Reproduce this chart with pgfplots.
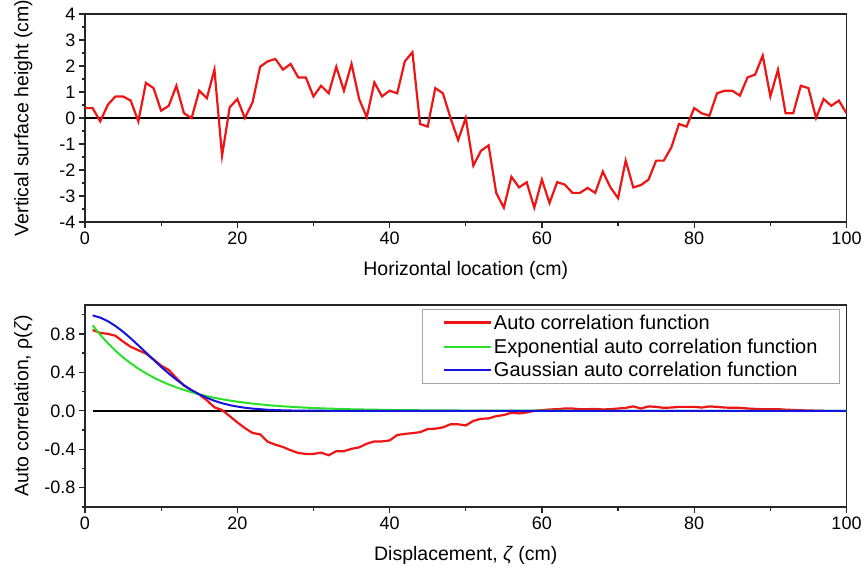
\documentclass[border=0pt]{standalone}
\usepackage{fontspec}
\setmainfont{Liberation Sans}
\usepackage{pgfplots}
\pgfplotsset{compat=1.18}
\definecolor{cred}{RGB}{240,20,20}
\definecolor{cgreen}{RGB}{40,225,40}
\definecolor{cblue}{RGB}{20,20,225}
\pgfplotsset{
 myaxis/.style={
  scale only axis, width=761.5bp, anchor=south west,
  xmin=0, xmax=100, xtick={0,20,...,100}, minor x tick num=1,
  tick align=outside, tick pos=left,
  major tick length=6bp, minor tick length=3.5bp,
  axis line style={line width=1.3bp, black!85},
  every tick/.style={line width=1.3bp, black!85},
  tick label style={font=\fontsize{18bp}{20bp}\selectfont},
  label style={font=\fontsize{19.5bp}{22bp}\selectfont},
  /pgf/number format/assume math mode=true,
  xticklabel={\pgfmathprintnumber[assume math mode=true]{\tick}},
  xlabel style={at={(axis description cs:0.5,0)}, anchor=center, yshift=-48bp},
  ylabel style={at={(axis description cs:-0.081,0.5)}, anchor=center},
 }
}
\begin{document}
\begin{tikzpicture}
\path[use as bounding box] (0bp,0bp) rectangle (866bp,-574bp);
\begin{axis}[myaxis, at={(85bp,-222bp)}, height=208bp,
  ymin=-4, ymax=4, ytick={-4,-3,...,4}, minor y tick num=1,
  yticklabel={\pgfmathprintnumber[assume math mode=true]{\tick}},
  xlabel={Horizontal location (cm)},
  ylabel={Vertical surface height (cm)}]
\addplot[black, line width=2.5bp, forget plot] coordinates {(0,0) (100,0)};
\addplot[cred, line width=2.2bp] table {
x y
0 0.38
1 0.38
2 -0.13
3 0.51
4 0.83
5 0.83
6 0.67
7 -0.13
8 1.35
9 1.15
10 0.28
11 0.47
12 1.24
13 0.18
14 0.0
15 1.05
16 0.76
17 1.86
18 -1.45
19 0.41
20 0.73
21 0.0
22 0.6
23 1.97
24 2.18
25 2.27
26 1.86
27 2.08
28 1.56
29 1.56
30 0.83
31 1.24
32 0.95
33 1.97
34 1.05
35 2.08
36 0.73
37 0.03
38 1.37
39 0.83
40 1.05
41 0.95
42 2.18
43 2.53
44 -0.23
45 -0.33
46 1.15
47 0.95
48 0.0
49 -0.85
50 0.0
51 -1.83
52 -1.26
53 -1.05
54 -2.88
55 -3.45
56 -2.26
57 -2.67
58 -2.47
59 -3.45
60 -2.37
61 -3.27
62 -2.47
63 -2.56
64 -2.88
65 -2.88
66 -2.69
67 -2.88
68 -2.06
69 -2.67
70 -3.08
71 -1.64
72 -2.67
73 -2.58
74 -2.37
75 -1.64
76 -1.64
77 -1.13
78 -0.23
79 -0.33
80 0.38
81 0.18
82 0.09
83 0.95
84 1.05
85 1.05
86 0.86
87 1.56
88 1.67
89 2.40
90 0.83
91 1.86
92 0.18
93 0.18
94 1.24
95 1.15
96 0.0
97 0.73
98 0.47
99 0.67
100 0.18
};
\end{axis}
\begin{axis}[myaxis, at={(85bp,-507bp)}, height=202bp,
  ymin=-1.0, ymax=1.1, ytick={-0.8,-0.4,0,0.4,0.8},
  minor ytick={-1,-0.6,-0.2,0.2,0.6,1.0},
  yticklabel={\pgfmathprintnumber[assume math mode=true,fixed,fixed zerofill,precision=1]{\tick}},
  xlabel={Displacement, \textit{ζ} (cm)},
  ylabel={Auto correlation, ρ(\textit{ζ})},
  legend cell align=left,
  legend style={at={(axis description cs:0.9915,0.98)}, anchor=north east,
    draw=black!35, line width=1bp, font=\fontsize{20bp}{22bp}\selectfont,
    inner xsep=20bp, inner ysep=3bp, row sep=4bp,
    /tikz/every even column/.style={column sep=5bp}},
  legend image code/.code={\draw[#1] (0bp,0bp) -- (47bp,0bp);}]
\addplot[black, line width=2.5bp, forget plot] coordinates {(1,0) (100,0)};
\addplot[cred, line width=2.2bp] table {
x y
1 0.84
2 0.81
3 0.80
4 0.78
5 0.72
6 0.665
7 0.63
8 0.595
9 0.535
10 0.47
11 0.425
12 0.34
13 0.262
14 0.212
15 0.17
16 0.11
17 0.036
18 0.008
19 -0.055
20 -0.12
21 -0.18
22 -0.23
23 -0.245
24 -0.322
25 -0.352
26 -0.376
27 -0.41
28 -0.438
29 -0.448
30 -0.448
31 -0.435
32 -0.462
33 -0.42
34 -0.42
35 -0.395
36 -0.38
37 -0.342
38 -0.318
39 -0.318
40 -0.308
41 -0.252
42 -0.24
43 -0.232
44 -0.222
45 -0.19
46 -0.186
47 -0.172
48 -0.14
49 -0.14
50 -0.152
51 -0.105
52 -0.083
53 -0.079
54 -0.055
55 -0.044
56 -0.02
57 -0.027
58 -0.017
59 0.0
60 0.007
61 0.014
62 0.017
63 0.024
64 0.024
65 0.017
66 0.017
67 0.02
68 0.014
69 0.017
70 0.024
71 0.03
72 0.046
73 0.024
74 0.046
75 0.041
76 0.031
77 0.034
78 0.041
79 0.041
80 0.041
81 0.034
82 0.046
83 0.041
84 0.034
85 0.031
86 0.031
87 0.024
88 0.02
89 0.017
90 0.017
91 0.017
92 0.012
93 0.009
94 0.006
95 0.003
96 0.002
97 0.0
};
\addlegendentry{Auto correlation function}
\addplot[cgreen, line width=2bp] table {
x y
1 0.889
2 0.790
3 0.703
4 0.625
5 0.555
6 0.494
7 0.439
8 0.390
9 0.347
10 0.308
11 0.274
12 0.244
13 0.217
14 0.193
15 0.171
16 0.152
17 0.135
18 0.120
19 0.107
20 0.095
22 0.075
24 0.059
26 0.047
28 0.037
30 0.029
32 0.023
35 0.016
40 0.009
45 0.005
50 0.003
60 0.001
70 0.0
100 0.0
};
\addlegendentry{Exponential auto correlation function}
\addplot[cblue, line width=2bp] table {
x y
1 0.992
2 0.969
3 0.932
4 0.882
5 0.822
6 0.754
7 0.681
8 0.606
9 0.530
10 0.457
11 0.388
12 0.324
13 0.266
14 0.215
15 0.172
16 0.135
17 0.104
18 0.079
19 0.059
20 0.044
21 0.032
22 0.023
24 0.011
26 0.005
28 0.002
30 0.001
35 0.0
100 0.0
};
\addlegendentry{Gaussian auto correlation function}
\end{axis}
\end{tikzpicture}
\end{document}
